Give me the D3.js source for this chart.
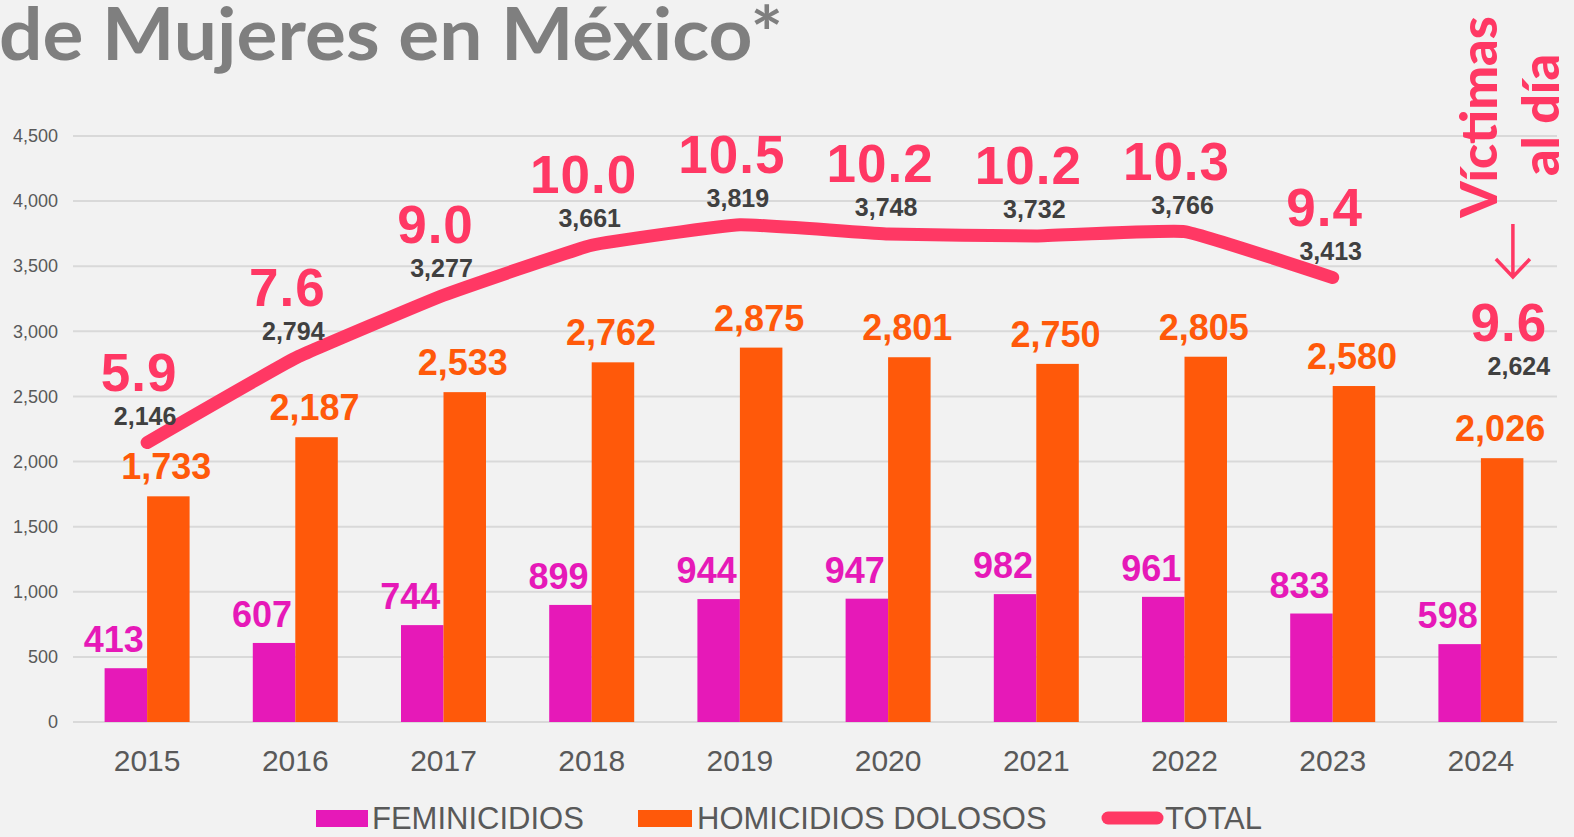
<!DOCTYPE html>
<html lang="es">
<head>
<meta charset="utf-8">
<script src="https://cdn.jsdelivr.net/npm/d3@7"></script>
<style>
  body{margin:0;background:#f2f2f2;overflow:hidden;}
  svg{display:block;}
  text{font-family:"Liberation Sans",Arial,sans-serif;}
  .grid line{stroke:#d9d9d9;stroke-width:2px;}
  .axis text{fill:#595959;}
</style>
</head>
<body>
<div id="chart"></div>
<script>
// datos
var years = ["2015","2016","2017","2018","2019","2020","2021","2022","2023","2024"];
var feminicidios = [413,607,744,899,944,947,982,961,833,598];
var homicidios = [1733,2187,2533,2762,2875,2801,2750,2805,2580,2026];
var totals = [2146,2794,3277,3661,3819,3748,3732,3766,3413,2624];
var victimasDia = [5.9,7.6,9.0,10.0,10.5,10.2,10.2,10.3,9.4,9.6];
var yTicks = [0,500,1000,1500,2000,2500,3000,3500,4000,4500];
var partialYear = "2024"; // fuera de la linea

var width = 1574, height = 837;
var cFem = "#e619b8", cHom = "#ff590a", cTot = "#ff3864";

var svg = d3.select("#chart").append("svg")
    .attr("width", width).attr("height", height);

svg.append("rect").attr("width", width).attr("height", height).attr("fill", "#f2f2f2");

var x = d3.scaleBand().domain(years).range([73, 1555])
    .paddingInner(0.4265).paddingOuter(0.21325);
var xs = d3.scaleBand().domain(["fem","hom"]).range([0, x.bandwidth()]);
var y = d3.scaleLinear().domain([0, 4500]).range([722, 136]);
var fmt = d3.format(",");
var fmt1 = d3.format(".1f");

var data = years.map(function(yr, i){
  return {year: yr, fem: feminicidios[i], hom: homicidios[i], total: totals[i], rate: victimasDia[i]};
});
function cx(d){ return x(d.year) + x.bandwidth()/2; }

// titulo (cortado arriba)
svg.append("text")
    .attr("x", -1).attr("y", 60)
    .attr("textLength", 784).attr("lengthAdjust", "spacingAndGlyphs")
    .style("font-family", "Lato, 'Open Sans', sans-serif")
    .style("font-weight", "700")
    .style("font-size", "72px")
    .attr("fill", "#7f7f7f")
    .text("de Mujeres en México*");

// grid
svg.append("g").attr("class", "grid")
  .selectAll("line").data(yTicks).enter().append("line")
    .attr("x1", 73).attr("x2", 1557)
    .attr("y1", function(d){ return y(d); })
    .attr("y2", function(d){ return y(d); });

// ejes
var gy = svg.append("g").attr("class", "axis")
    .attr("transform", "translate(61,0)")
    .call(d3.axisLeft(y).tickValues(yTicks).tickSize(0).tickPadding(3).tickFormat(fmt));
gy.select(".domain").remove();
gy.selectAll("text").style("font-size", "18px").style("font-family", "'Liberation Sans',Arial,sans-serif");

var gx = svg.append("g").attr("class", "axis")
    .attr("transform", "translate(0,722)")
    .call(d3.axisBottom(x).tickSize(0).tickPadding(28));
gx.select(".domain").remove();
gx.selectAll("text").style("font-size", "30px").style("font-family", "'Liberation Sans',Arial,sans-serif");

// barras
var grp = svg.append("g").selectAll("g").data(data).enter().append("g")
    .attr("transform", function(d){ return "translate(" + x(d.year) + ",0)"; });

grp.append("rect")
    .attr("x", xs("fem")).attr("width", xs.bandwidth())
    .attr("y", function(d){ return y(d.fem); })
    .attr("height", function(d){ return y(0) - y(d.fem); })
    .attr("fill", cFem);

grp.append("rect")
    .attr("x", xs("hom")).attr("width", xs.bandwidth())
    .attr("y", function(d){ return y(d.hom); })
    .attr("height", function(d){ return y(0) - y(d.hom); })
    .attr("fill", cHom);

grp.append("text")
    .attr("x", xs("fem") + xs.bandwidth()/2 - 12)
    .attr("y", function(d){ return y(d.fem) - 16; })
    .attr("text-anchor", "middle")
    .style("font-weight", "700").style("font-size", "36px")
    .attr("fill", cFem)
    .text(function(d){ return fmt(d.fem); });

grp.append("text")
    .attr("x", xs("hom") + xs.bandwidth()/2 - 2)
    .attr("y", function(d){ return y(d.hom) - 17; })
    .attr("text-anchor", "middle")
    .style("font-weight", "700").style("font-size", "36px")
    .attr("fill", cHom)
    .text(function(d){ return fmt(d.hom); });

// linea total
var lineData = data.filter(function(d){ return d.year !== partialYear; });
svg.append("path")
    .datum(lineData)
    .attr("fill", "none")
    .attr("stroke", cTot)
    .attr("stroke-width", 13)
    .attr("stroke-linecap", "round")
    .attr("stroke-linejoin", "round")
    .attr("d", d3.line().x(cx).y(function(d){ return y(d.total); }).curve(d3.curveCardinal.tension(0.7)));

// etiquetas total y victimas al dia
function totX(d){ return d.year === partialYear ? cx(d) + 38 : cx(d) - 2; }
function totY(d){ return d.year === partialYear ? y(d.total) - 5 : y(d.total) - 18; }

svg.append("g").selectAll("text").data(data).enter().append("text")
    .attr("x", totX).attr("y", totY)
    .attr("text-anchor", "middle")
    .style("font-weight", "700").style("font-size", "25px")
    .attr("fill", "#404040")
    .text(function(d){ return fmt(d.total); });

svg.append("g").selectAll("text").data(data).enter().append("text")
    .attr("x", function(d){ return d.year === partialYear ? cx(d) + 28 : cx(d) - 8; })
    .attr("y", function(d){ return totY(d) - 34; })
    .attr("text-anchor", "middle")
    .style("font-weight", "700").style("font-size", "53px")
    .style("letter-spacing", "1px")
    .attr("fill", cTot)
    .text(function(d){ return fmt1(d.rate); });

// anotacion "Victimas al dia"
svg.append("text")
    .attr("transform", "translate(1497,117) rotate(-90)")
    .attr("text-anchor", "middle")
    .style("font-family", "Lato, sans-serif").style("font-weight", "900").style("font-size", "52px")
    .attr("fill", cTot)
    .text("Víctimas");
svg.append("text")
    .attr("transform", "translate(1559,115) rotate(-90)")
    .attr("text-anchor", "middle")
    .style("font-family", "Lato, sans-serif").style("font-weight", "900").style("font-size", "52px")
    .attr("fill", cTot)
    .text("al día");

var ax = x(partialYear) + x.bandwidth()/2 + 32;
svg.append("path")
    .attr("d", "M" + ax + ",224V277M" + (ax - 17) + ",259L" + ax + ",277L" + (ax + 17) + ",259")
    .attr("fill", "none").attr("stroke", cTot).attr("stroke-width", 3.5);

// leyenda
var leg = svg.append("g").style("font-size", "31px").attr("fill", "#595959");
leg.append("rect").attr("x", 316).attr("y", 810).attr("width", 52).attr("height", 17).attr("fill", cFem);
leg.append("text").attr("x", 372).attr("y", 829).text("FEMINICIDIOS");
leg.append("rect").attr("x", 638).attr("y", 810).attr("width", 54).attr("height", 17).attr("fill", cHom);
leg.append("text").attr("x", 697).attr("y", 829).text("HOMICIDIOS DOLOSOS");
leg.append("line").attr("x1", 1108).attr("x2", 1157).attr("y1", 818).attr("y2", 818)
    .attr("stroke", cTot).attr("stroke-width", 13).attr("stroke-linecap", "round");
leg.append("text").attr("x", 1165).attr("y", 829).text("TOTAL");
</script>
</body>
</html>
